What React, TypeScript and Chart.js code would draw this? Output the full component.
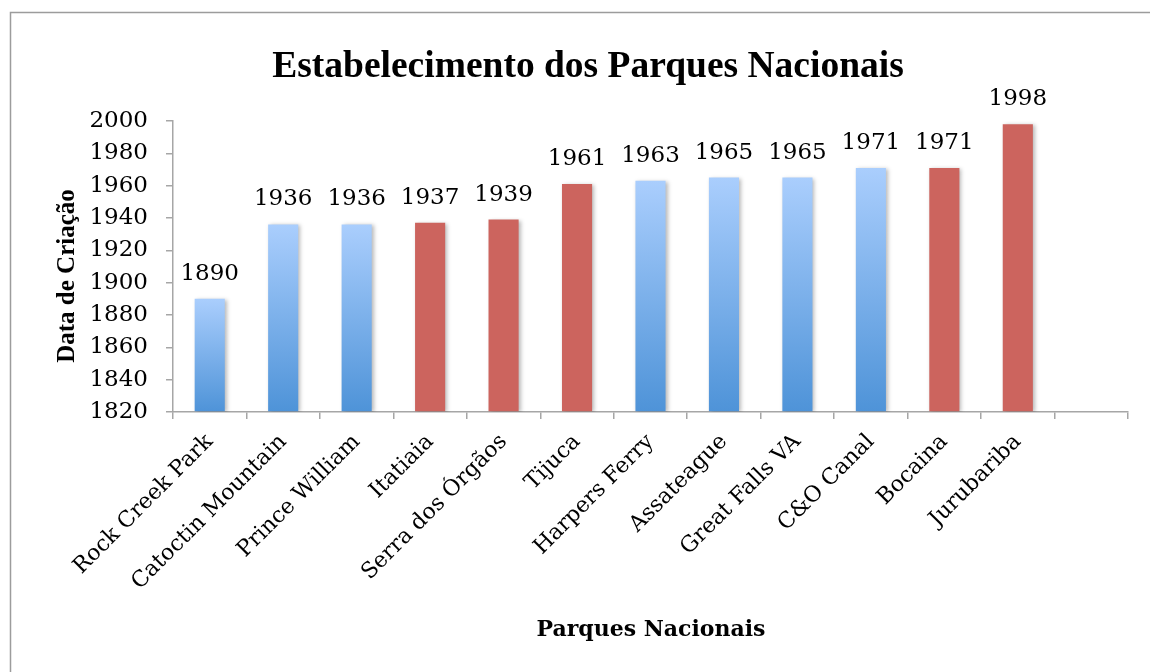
import React, { useEffect, useRef } from "react";
import { Chart, registerables } from "chart.js";

Chart.register(...registerables);

const categories = [
  "Rock Creek Park",
  "Catoctin Mountain",
  "Prince William",
  "Itatiaia",
  "Serra dos Órgãos",
  "Tijuca",
  "Harpers Ferry",
  "Assateague",
  "Great Falls VA",
  "C&O Canal",
  "Bocaina",
  "Jurubariba",
  "",
];
const years = [1890, 1936, 1936, 1937, 1939, 1961, 1963, 1965, 1965, 1971, 1971, 1998, null];
const country = ["US", "US", "US", "BR", "BR", "BR", "US", "US", "US", "US", "BR", "BR", ""];

const titleText = "Estabelecimento dos Parques Nacionais";
const yTitleText = "Data de Criação";
const xTitleText = "Parques Nacionais";
const yMin = 1820;
const yMax = 2000;
const yStep = 20;

const SERIF = "'Liberation Serif', 'Times New Roman', serif";
const WIDE = "'DejaVu Serif', serif";

export default function App() {
  const ref = useRef<HTMLCanvasElement | null>(null);

  useEffect(() => {
    document.body.style.margin = "0";
    const canvas = ref.current!;
    const decor = {
      id: "decor",
      beforeDraw(chart: any) {
        const ctx = chart.ctx;
        ctx.save();
        ctx.fillStyle = "#ffffff";
        ctx.fillRect(0, 0, chart.width, chart.height);
        ctx.strokeStyle = "#9c9c9c";
        ctx.lineWidth = 1.5;
        ctx.beginPath();
        ctx.moveTo(10.5, chart.height);
        ctx.lineTo(10.5, 12.5);
        ctx.lineTo(chart.width, 12.5);
        ctx.stroke();
        ctx.restore();
      },
      beforeDatasetsDraw(chart: any) {
        const ctx = chart.ctx;
        ctx.save();
        ctx.shadowColor = "rgba(0,0,0,0.28)";
        ctx.shadowBlur = 4;
        ctx.shadowOffsetX = 2;
        ctx.shadowOffsetY = 1;
      },
      afterDatasetsDraw(chart: any) {
        const ctx = chart.ctx;
        ctx.restore();
        ctx.save();
        ctx.fillStyle = "#000";
        ctx.font = `23px ${WIDE}`;
        ctx.textAlign = "center";
        ctx.textBaseline = "alphabetic";
        const meta = chart.getDatasetMeta(0);
        meta.data.forEach((bar: any, i: number) => {
          const v = years[i];
          if (v == null) return;
          ctx.fillText(String(v), bar.x, bar.y - 19);
        });
        ctx.restore();
      },
      afterDraw(chart: any) {
        const ctx = chart.ctx;
        ctx.save();
        ctx.fillStyle = "#000";
        ctx.textAlign = "center";
        ctx.textBaseline = "alphabetic";
        ctx.font = `bold 37.5px ${SERIF}`;
        ctx.fillText(titleText, 588, 77);
        ctx.font = `bold 22px ${WIDE}`;
        ctx.fillText(xTitleText, 651, 636);
        ctx.translate(68, 276);
        ctx.rotate(-Math.PI / 2);
        ctx.textBaseline = "middle";
        ctx.font = `bold 25px ${SERIF}`;
        ctx.fillText(yTitleText, 0, 0);
        ctx.restore();
      },
    };

    const chart = new Chart(canvas, {
      type: "bar",
      data: {
        labels: categories,
        datasets: [
          {
            data: years as any,
            backgroundColor: (c: any) => {
              const i = c.dataIndex;
              if (country[i] === "BR") return "#CC645E";
              const ch = c.chart;
              const ys = ch.scales.y;
              const v = years[i];
              if (!ys || v == null || !ch.chartArea) return "#7AB0EA";
              const top = ys.getPixelForValue(v);
              const bot = ys.getPixelForValue(yMin);
              const g = ch.ctx.createLinearGradient(0, top, 0, bot);
              g.addColorStop(0, "#AACEFD");
              g.addColorStop(1, "#4E93D8");
              return g;
            },
            borderWidth: 0,
            barPercentage: 0.41,
            categoryPercentage: 1,
            base: yMin,
          },
        ],
      },
      options: {
        responsive: false,
        animation: false,
        layout: { padding: { left: 10, right: 22, top: 121, bottom: 0 } },
        plugins: {
          legend: { display: false },
          title: { display: false },
          tooltip: { enabled: false },
        },
        scales: {
          x: {
            grid: {
              offset: true,
              drawOnChartArea: false,
              drawTicks: true,
              tickLength: 7,
              color: "#A6A6A6",
              lineWidth: 1.5,
            },
            border: { color: "#A6A6A6", width: 1.5 },
            ticks: {
              color: "#000",
              font: { family: WIDE, size: 22 },
              minRotation: 45,
              maxRotation: 45,
              autoSkip: false,
              padding: 10,
            },
            afterFit(scale: any) {
              scale.height = 260;
            },
          },
          y: {
            min: yMin,
            max: yMax,
            grid: {
              drawOnChartArea: false,
              drawTicks: true,
              tickLength: 7,
              color: "#A6A6A6",
              lineWidth: 1.5,
            },
            border: { color: "#A6A6A6", width: 1.5 },
            ticks: {
              stepSize: yStep,
              autoSkip: false,
              color: "#000",
              font: { family: WIDE, size: 23 },
              padding: 18,
              callback: (v: any) => String(v),
            },
            afterFit(scale: any) {
              scale.width = 163;
            },
          },
        },
      },
      plugins: [decor],
    });
    return () => chart.destroy();
  }, []);

  return (
    <div style={{ position: "absolute", left: 0, top: 0, width: 1150, height: 672 }}>
      <canvas ref={ref} width={1150} height={672} style={{ display: "block" }} />
    </div>
  );
}
